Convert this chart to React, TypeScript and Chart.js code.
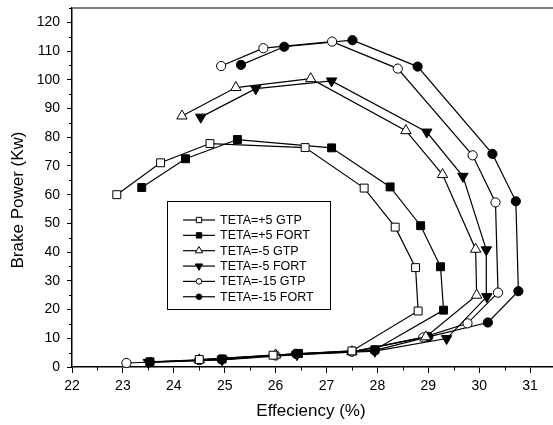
import React, { useEffect, useRef } from 'react';
import { Chart, registerables } from 'chart.js';

Chart.register(...registerables);

const FONT = "'Liberation Sans', Arial, Helvetica, sans-serif";

// Efficiency (%) and brake power (kW) for each series
const effGtpP5 = [24.5, 25.95, 27.5, 28.8, 28.75, 28.35, 27.74, 26.58, 24.71, 23.74, 22.88];
const powGtpP5 = [2.6, 4.1, 5.6, 19.5, 34.6, 48.7, 62.3, 76.4, 77.8, 71.1, 60.0];

const effFortP5 = [23.53, 24.95, 26.45, 27.95, 29.3, 29.24, 28.85, 28.25, 27.1, 25.25, 24.23, 23.37];
const powFortP5 = [1.8, 2.8, 4.7, 6.0, 19.8, 34.9, 49.2, 62.7, 76.3, 79.2, 72.5, 62.5];

const effGtpM5 = [24.5, 26.0, 27.5, 28.95, 29.95, 29.93, 29.28, 28.56, 26.69, 25.22, 24.16];
const powGtpM5 = [2.5, 4.2, 5.3, 10.5, 25.0, 41.0, 67.0, 82.3, 100.4, 97.3, 87.4];

const effFortM5 = [23.5, 24.95, 26.42, 27.95, 29.36, 30.15, 30.14, 29.68, 28.97, 27.1, 25.61, 24.53];
const powFortM5 = [1.6, 2.5, 4.3, 5.5, 9.9, 24.5, 40.8, 66.4, 81.8, 99.6, 96.9, 87.0];

const effGtpM15 = [23.07, 24.5, 26.0, 27.5, 28.9, 29.77, 30.37, 30.32, 29.87, 28.4, 27.11, 25.76, 24.93];
const powGtpM15 = [1.4, 2.4, 4.0, 5.3, 10.3, 15.2, 25.9, 57.3, 73.7, 103.9, 113.3, 111.0, 104.8];

const effFortM15 = [23.53, 24.94, 26.4, 27.95, 29.0, 30.17, 30.77, 30.72, 30.26, 28.79, 27.51, 26.17, 25.32];
const powFortM15 = [1.7, 2.6, 4.6, 5.8, 10.5, 15.5, 26.4, 57.7, 74.2, 104.6, 113.8, 111.5, 105.2];

const seriesLabels = [
  'TETA=+5 GTP',
  'TETA=+5 FORT',
  'TETA=-5 GTP',
  'TETA=-5 FORT',
  'TETA=-15 GTP',
  'TETA=-15 FORT',
];

const xTitle = 'Effeciency (%)';
const yTitle = 'Brake Power (Kw)';

const toPts = (xs: number[], ys: number[]) => xs.map((x, i) => ({ x, y: ys[i] }));

type Marker = { style: string; filled: boolean; rot: number; r: number };
const markers: Marker[] = [
  { style: 'rect', filled: false, rot: 0, r: 5.6 },
  { style: 'rect', filled: true, rot: 0, r: 5.6 },
  { style: 'triangle', filled: false, rot: 0, r: 6 },
  { style: 'triangle', filled: true, rot: 180, r: 6 },
  { style: 'circle', filled: false, rot: 0, r: 4.6 },
  { style: 'circle', filled: true, rot: 0, r: 4.6 },
];

function drawMarker(ctx: CanvasRenderingContext2D, m: Marker, x: number, y: number, r: number) {
  ctx.save();
  ctx.beginPath();
  if (m.style === 'rect') {
    const s = r * Math.SQRT1_2;
    ctx.rect(x - s, y - s, 2 * s, 2 * s);
  } else if (m.style === 'circle') {
    ctx.arc(x, y, r, 0, Math.PI * 2);
  } else {
    const dir = m.rot === 180 ? 1 : -1;
    ctx.moveTo(x, y + dir * r);
    ctx.lineTo(x + r * Math.cos(Math.PI / 6), y - dir * r / 2);
    ctx.lineTo(x - r * Math.cos(Math.PI / 6), y - dir * r / 2);
    ctx.closePath();
  }
  ctx.fillStyle = m.filled ? '#000' : '#fff';
  ctx.fill();
  ctx.lineWidth = 1;
  ctx.strokeStyle = '#000';
  ctx.stroke();
  ctx.restore();
}

const extrasPlugin = {
  id: 'extras',
  afterDraw(chart: any) {
    const { ctx, chartArea, scales } = chart;
    const xs = scales.x;
    const ys = scales.y;
    ctx.save();
    // top frame line
    ctx.strokeStyle = '#555';
    ctx.lineWidth = 1.5;
    ctx.beginPath();
    ctx.moveTo(chartArea.left, chartArea.top);
    ctx.lineTo(chartArea.right, chartArea.top);
    ctx.stroke();
    // minor ticks
    ctx.strokeStyle = '#000';
    ctx.lineWidth = 1;
    ctx.beginPath();
    for (let v = 5; v <= 125; v += 10) {
      const py = Math.round(ys.getPixelForValue(v)) + 0.5;
      ctx.moveTo(chartArea.left, py);
      ctx.lineTo(chartArea.left - 3, py);
    }
    for (let v = 22.5; v <= 31.45; v += 1) {
      const px = Math.round(xs.getPixelForValue(v)) + 0.5;
      ctx.moveTo(px, chartArea.bottom);
      ctx.lineTo(px, chartArea.bottom + 3.5);
    }
    ctx.stroke();

    // axis titles
    ctx.fillStyle = '#000';
    ctx.font = `17px ${FONT}`;
    ctx.textAlign = 'center';
    ctx.textBaseline = 'middle';
    ctx.fillText(xTitle, 311, 411);
    ctx.save();
    ctx.translate(18, 200);
    ctx.rotate(-Math.PI / 2);
    ctx.fillText(yTitle, 0, 0);
    ctx.restore();

    // legend box
    const bx = 167, by = 201, bw = 163, bh = 108;
    ctx.lineWidth = 1;
    ctx.strokeStyle = '#000';
    ctx.fillStyle = '#fff';
    ctx.fillRect(bx, by, bw, bh);
    ctx.strokeRect(bx + 0.5, by + 0.5, bw, bh);
    ctx.font = `12.5px ${FONT}`;
    ctx.textBaseline = 'middle';
    ctx.textAlign = 'left';
    seriesLabels.forEach((lab, i) => {
      const yy = 220 + i * 15.35;
      ctx.beginPath();
      ctx.lineWidth = 1.2;
      ctx.moveTo(183, yy);
      ctx.lineTo(215, yy);
      ctx.stroke();
      const m = markers[i];
      const lr = m.style === 'triangle' ? 4.2 : m.style === 'rect' ? 3.8 : 2.8;
      drawMarker(ctx, m, 199, yy, lr);
      ctx.fillStyle = '#000';
      ctx.fillText(lab, 220, yy + 0.5);
    });
    ctx.restore();
  },
};

export default function App() {
  const ref = useRef<HTMLCanvasElement | null>(null);
  useEffect(() => {
    if (!ref.current) return;
    const sets = [
      toPts(effGtpP5, powGtpP5),
      toPts(effFortP5, powFortP5),
      toPts(effGtpM5, powGtpM5),
      toPts(effFortM5, powFortM5),
      toPts(effGtpM15, powGtpM15),
      toPts(effFortM15, powFortM15),
    ];
    const chart = new Chart(ref.current, {
      type: 'scatter',
      data: {
        datasets: sets.map((d, i) => ({
          label: seriesLabels[i],
          data: d,
          showLine: true,
          clip: false,
          borderColor: '#000',
          borderWidth: 1.2,
          pointStyle: markers[i].style as any,
          pointRotation: markers[i].rot,
          pointRadius: markers[i].r,
          pointBackgroundColor: markers[i].filled ? '#000' : '#fff',
          pointBorderColor: '#000',
          pointBorderWidth: 1,
        })),
      },
      options: {
        animation: false,
        responsive: false,
        layout: { autoPadding: false, padding: { top: 8, right: 0, left: 0, bottom: 0 } },
        plugins: { legend: { display: false }, tooltip: { enabled: false } },
        scales: {
          x: {
            type: 'linear',
            min: 22,
            max: 31.45,
            afterFit: (s: any) => { s.height = 58; s.paddingLeft = 0; s.paddingRight = 0; },
            ticks: { stepSize: 1, includeBounds: false, color: '#000', font: { family: FONT, size: 14 }, padding: 5, maxRotation: 0 },
            grid: { drawOnChartArea: false, tickLength: 6, color: '#000', tickWidth: 1 },
            border: { color: '#000', width: 1.5 },
            title: { display: false },
          },
          y: {
            type: 'linear',
            min: 0,
            max: 125,
            afterFit: (s: any) => { s.width = 72; s.paddingTop = 0; s.paddingBottom = 0; },
            ticks: { stepSize: 10, includeBounds: false, color: '#000', font: { family: FONT, size: 14 }, padding: 7 },
            grid: { drawOnChartArea: false, tickLength: 5, color: '#000', tickWidth: 1 },
            border: { color: '#000', width: 1.5 },
            title: { display: false },
          },
        },
      },
      plugins: [extrasPlugin],
    } as any);
    return () => chart.destroy();
  }, []);
  return (
    <div style={{ position: 'fixed', left: 0, top: 0, width: 553, height: 425, background: '#fff' }}>
      <canvas ref={ref} width={553} height={425} style={{ display: 'block', width: 553, height: 425 }} />
    </div>
  );
}
